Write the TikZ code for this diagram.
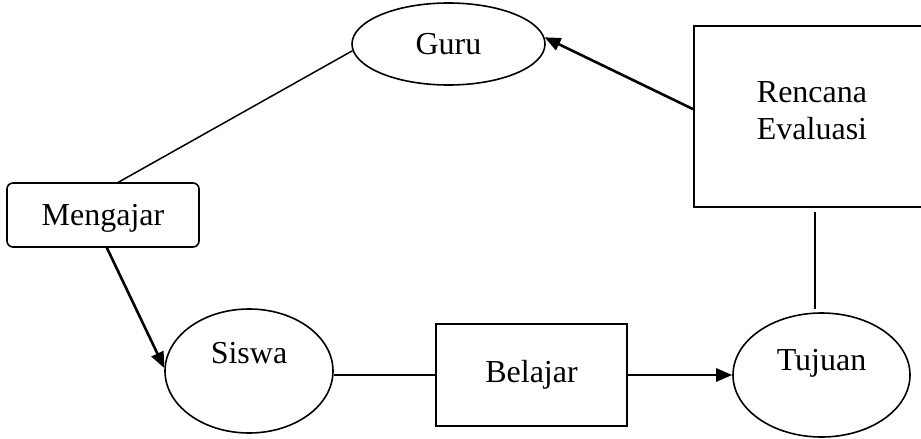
\documentclass[tikz,border=0pt]{standalone}
\usepackage{fontspec}
\setmainfont{Liberation Serif}
\usetikzlibrary{shapes.geometric,arrows.meta,calc}
\tikzset{
  every node/.style={font=\fontsize{32}{37}\selectfont},
  oval/.style={draw, ellipse, line width=1.6pt, inner sep=0pt},
  box/.style={draw, rectangle, line width=1.6pt, inner sep=0pt},
  rbox/.style={draw, rectangle, rounded corners=6pt, line width=1.6pt, inner sep=0pt},
  plain/.style={line width=1.5pt},
  arr/.style={line width=2.6pt, -{Triangle[length=16pt,width=13pt]}},
}
\begin{document}
\begin{tikzpicture}[x=1pt,y=-1pt]
\useasboundingbox (0,0) rectangle (921,439);
\clip (0,0) rectangle (921,439);
\node[oval, minimum width=193, minimum height=82] (guru) at (448.5,44) {Guru};
\node[rbox, minimum width=192, minimum height=64, text height=22pt, text depth=2pt] (meng) at (103,215) {Mengajar};
\node[oval, minimum width=168, minimum height=124, text height=14pt, text depth=30pt] (siswa) at (249,371) {Siswa};
\node[box, minimum width=191, minimum height=102] (bel) at (531.5,375) {Belajar};
\node[oval, minimum width=177, minimum height=124, text height=15pt, text depth=25pt] (tuj) at (821.5,375) {Tujuan};
\node[box, minimum width=236, minimum height=181, label={[align=center, yshift=5.5pt]center:Rencana\\Evaluasi}] (ren) at (812,116.5) {};
\draw[plain] (guru.184) -- ($(meng.north west)!0.58!(meng.north east)$);
\draw[arr] ($(meng.south west)!0.52!(meng.south east)$) -- (siswa.178);
\draw[plain] (siswa.east |- bel.west) -- (bel.west);
\draw[arr] (bel.east) -- (tuj.west);
\draw[arr] ($(ren.north west)!0.46!(ren.south west)$) -- (guru.4);
\draw[plain] ([shift={(3,4)}]ren.south) -- ([shift={(-6.5,-3)}]tuj.north);
\end{tikzpicture}
\end{document}
